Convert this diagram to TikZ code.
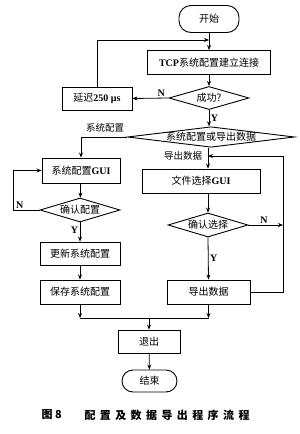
\documentclass[tikz,border=0pt]{standalone}
\usepackage{fontspec}
\setmainfont{Noto Sans CJK SC}
\newfontfamily\lat{Liberation Serif}
\newfontfamily\capfont[LetterSpace=40]{Noto Sans CJK SC}
\usetikzlibrary{shapes.geometric,arrows.meta}
\begin{document}
\begin{tikzpicture}[x=1pt,y=-1pt,
  every node/.style={font=\fontsize{10}{12}\selectfont},
  box/.style={draw, line width=0.9pt, inner sep=0pt, minimum height=24pt},
  term/.style={draw, line width=0.9pt, rounded corners=12pt, inner sep=0pt, minimum height=27pt},
  dec/.style={draw, diamond, line width=0.9pt, inner sep=0pt, aspect=3.3},
  lbl/.style={font=\lat\bfseries\fontsize{10}{12}\selectfont, inner sep=1.5pt},
  tag/.style={font=\fontsize{9.5}{11}\selectfont, inner sep=0pt},
  arr/.style={line width=0.8pt, -{Stealth[length=5pt,width=4pt]}},
  ln/.style={line width=0.8pt}]
\useasboundingbox (0,0) rectangle (300,434);
% nodes
\node[term, minimum width=60pt] (start) at (209,19) {开始};
\node[box, minimum width=123pt] (tcp) at (209,62.5) {{\lat\bfseries TCP}系统配置建立连接};
\node[dec, minimum width=80pt, minimum height=23pt] (ok) at (209,98) {成功?};
\node[box, minimum width=70pt, minimum height=23pt] (delay) at (97,98.5) {延迟{\lat\bfseries 250 μs}};
\node[dec, aspect=8, minimum width=167pt, minimum height=20pt] (sel) at (211,137) {系统配置或导出数据};
\node[box, minimum width=78pt, minimum height=25pt] (gui1) at (81,170.5) {系统配置{\lat\bfseries GUI}};
\node[dec, minimum width=80pt, minimum height=24pt] (conf) at (80,210) {确认配置};
\node[box, minimum width=80pt, minimum height=23pt] (upd) at (80,253.5) {更新系统配置};
\node[box, minimum width=80pt, minimum height=24pt] (save) at (80,292) {保存系统配置};
\node[box, minimum width=118pt] (gui2) at (201,181) {文件选择{\lat\bfseries GUI}};
\node[dec, minimum width=80pt, minimum height=24pt] (chk) at (208,225) {确认选择};
\node[box, minimum width=83pt, minimum height=24pt] (exp) at (208.5,292) {导出数据};
\node[box, minimum width=62pt, minimum height=23pt] (quit) at (149,341.5) {退出};
\node[term, minimum width=55pt, minimum height=22pt, rounded corners=11pt] (end) at (149.5,381) {结束};
% branch tags
\node[tag] (tsys) at (105,127.5) {系统配置};
\node[tag] (texp) at (183,156) {导出数据};
% helper coordinates
\coordinate (j1) at (209,40);
\coordinate (j2) at (208,156);
\coordinate (rtop) at (283,156);
\coordinate (lft) at (13,210);
\coordinate (m) at (149,318);
% connectors
\draw[arr] (start) -- (tcp);
\draw[arr] (tcp) -- (ok);
\draw[arr] (ok.west) -- node[lbl, above, pos=0.2]{N} (delay.east);
\draw[arr] (delay.north) |- (j1);
\draw[arr] (ok.south) -- node[lbl, right]{Y} (ok.south |- sel.north);
\draw[arr] (sel.west) -| (gui1.north);
\draw[arr] (sel.south -| j2) -- (j2 |- gui2.north);
\draw[arr] (gui1) -- (conf);
\draw[arr] (conf.south) -- node[lbl, left, pos=0.4]{Y} (upd.north);
\draw[arr] (conf.west) -- node[lbl, above, pos=0.75]{N} (lft) |- (gui1.west);
\draw[arr] (upd) -- (save);
\draw[arr] (gui2.south -| chk.north) -- (chk.north);
\draw[arr] (chk.south) -- node[lbl, right]{Y} (exp.north);
\draw[arr] (chk.east) -- node[lbl, above, pos=0.45]{N} (chk.east -| rtop);
\draw[arr] (exp.east) -| (rtop) -- (j2);
\draw[arr] (save.south) -- (save.south |- m);
\draw[arr] (exp.south) -- (exp.south |- m);
\draw[ln] (save.south |- m) -- (exp.south |- m);
\draw[arr] (m) -- (quit.north);
\draw[arr] (quit) -- (end);
% caption
\node[font=\fontsize{11}{13}\selectfont\bfseries, anchor=west] (cap1) at (38,415) {图 8};
\node[font=\capfont\fontsize{11}{13}\selectfont\bfseries, anchor=west] (cap2) at (81,415) {配置及数据导出程序流程};
\end{tikzpicture}
\end{document}
